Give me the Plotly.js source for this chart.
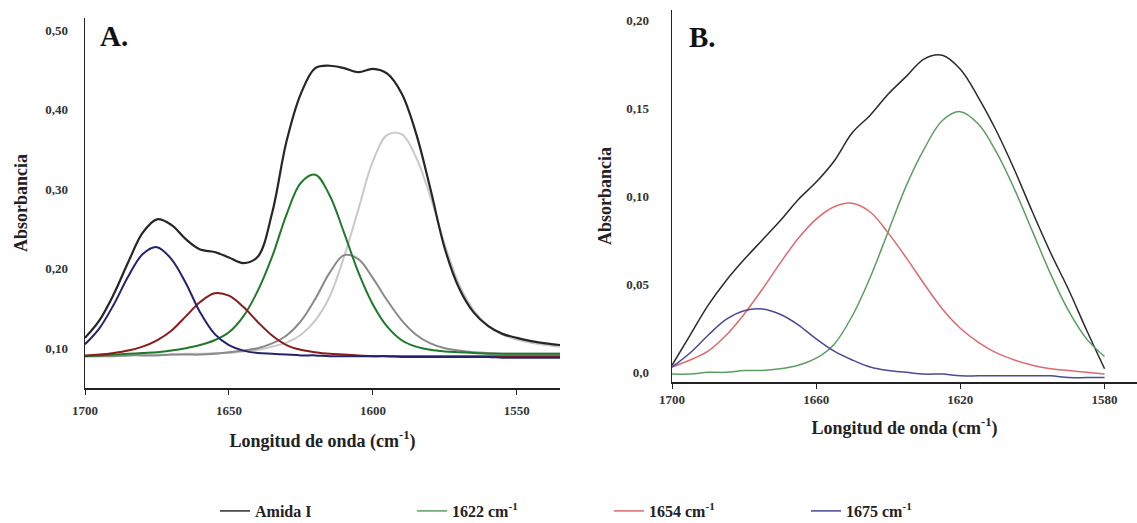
<!DOCTYPE html>
<html>
<head>
<meta charset="utf-8">
<script src="https://cdn.plot.ly/plotly-3.0.1.min.js"></script>
<style>html,body{margin:0;padding:0;background:#fff;}#chart{width:1137px;height:523px;}</style>
</head>
<body>
<div id="chart"></div>
<script>
// ---------- Panel A data ----------
const xA = [1700,1695,1690,1685,1680,1675,1670,1665,1660,1655,1650,1645,1640,1635,1630,1625,1620,1615,1610,1605,1600,1595,1590,1585,1580,1575,1570,1565,1560,1555,1550,1545,1540,1535];
const amidaA = [0.113,0.135,0.168,0.208,0.245,0.262,0.255,0.237,0.224,0.221,0.214,0.207,0.215,0.270,0.360,0.420,0.452,0.455,0.452,0.447,0.451,0.445,0.420,0.370,0.300,0.225,0.175,0.145,0.128,0.118,0.113,0.109,0.106,0.104];
const band1675A = [0.105,0.125,0.155,0.190,0.218,0.227,0.212,0.182,0.145,0.118,0.104,0.097,0.094,0.093,0.092,0.091,0.091,0.090,0.090,0.090,0.090,0.090,0.089,0.089,0.089,0.089,0.089,0.089,0.089,0.088,0.088,0.088,0.088,0.088];
const band1654A = [0.091,0.092,0.094,0.097,0.102,0.110,0.122,0.140,0.158,0.169,0.166,0.152,0.133,0.116,0.104,0.098,0.095,0.093,0.092,0.091,0.090,0.090,0.090,0.090,0.090,0.090,0.090,0.090,0.090,0.090,0.090,0.090,0.090,0.090];
const band1622A = [0.090,0.091,0.092,0.093,0.094,0.095,0.097,0.100,0.104,0.110,0.120,0.140,0.172,0.215,0.268,0.308,0.318,0.292,0.245,0.195,0.155,0.127,0.110,0.102,0.098,0.096,0.095,0.094,0.093,0.093,0.093,0.093,0.093,0.093];
const band1610A = [0.090,0.090,0.090,0.091,0.091,0.091,0.092,0.092,0.092,0.093,0.095,0.097,0.100,0.106,0.116,0.134,0.162,0.195,0.217,0.212,0.188,0.160,0.135,0.117,0.106,0.100,0.097,0.095,0.094,0.093,0.093,0.093,0.093,0.093];
const band1592A = [0.090,0.090,0.091,0.091,0.092,0.092,0.092,0.093,0.093,0.094,0.094,0.096,0.098,0.102,0.107,0.117,0.135,0.165,0.215,0.275,0.335,0.368,0.369,0.340,0.290,0.230,0.180,0.148,0.128,0.117,0.111,0.107,0.104,0.102];

// ---------- Panel B data ----------
const xB = [1700,1695,1690,1685,1680,1675,1670,1665,1660,1655,1650,1645,1640,1635,1630,1625,1620,1615,1610,1605,1600,1595,1590,1585,1580];
const amidaB = [0.004,0.021,0.038,0.052,0.064,0.075,0.086,0.098,0.108,0.120,0.136,0.146,0.158,0.168,0.178,0.180,0.172,0.156,0.137,0.115,0.091,0.068,0.047,0.024,0.002];
const band1622B = [-0.001,-0.001,0.000,0.000,0.001,0.001,0.002,0.004,0.008,0.016,0.032,0.054,0.080,0.106,0.127,0.143,0.148,0.141,0.125,0.104,0.080,0.056,0.035,0.019,0.009];
const band1654B = [0.003,0.007,0.012,0.021,0.033,0.047,0.062,0.076,0.087,0.094,0.096,0.091,0.079,0.065,0.050,0.036,0.025,0.017,0.011,0.007,0.004,0.002,0.001,0.000,-0.001];
const band1675B = [0.003,0.011,0.021,0.030,0.035,0.036,0.033,0.027,0.019,0.012,0.007,0.003,0.001,0.000,-0.001,-0.001,-0.002,-0.002,-0.002,-0.002,-0.002,-0.002,-0.003,-0.003,-0.003];

// ---------- Tick labels ----------
const yTickValsA = [0.10,0.20,0.30,0.40,0.50];
const yTickTextA = ['0,10','0,20','0,30','0,40','0,50'];
const xTickValsA = [1700,1650,1600,1550];
const yTickValsB = [0.00,0.05,0.10,0.15,0.20];
const yTickTextB = ['0,0','0,05','0,10','0,15','0,20'];
const xTickValsB = [1700,1660,1620,1580];
const legendNames = ['Amida I','1622 cm<sup>-1</sup>','1654 cm<sup>-1</sup>','1675 cm<sup>-1</sup>'];

const serif = 'Liberation Serif, Times New Roman, serif';

function tr(x, y, color, width, xa, ya, name, showleg) {
  return {x: x, y: y, type: 'scatter', mode: 'lines',
    line: {color: color, width: width, shape: 'spline', smoothing: 1},
    xaxis: xa, yaxis: ya, name: name || '', showlegend: !!showleg, hoverinfo: 'skip'};
}

const data = [
  tr(xA, band1592A, '#c9c9c9', 2, 'x', 'y'),
  tr(xA, band1610A, '#8a8a8a', 2, 'x', 'y'),
  tr(xA, band1622A, '#1e7a2a', 2, 'x', 'y'),
  tr(xA, band1654A, '#8a1c1c', 2, 'x', 'y'),
  tr(xA, band1675A, '#23236e', 2, 'x', 'y'),
  tr(xA, amidaA, '#262626', 2.2, 'x', 'y'),
  tr(xB, amidaB, '#2b2b2b', 1.5, 'x2', 'y2', legendNames[0], true),
  tr(xB, band1622B, '#5c9e62', 1.5, 'x2', 'y2', legendNames[1], true),
  tr(xB, band1654B, '#dc6a6e', 1.5, 'x2', 'y2', legendNames[2], true),
  tr(xB, band1675B, '#4a4a96', 1.5, 'x2', 'y2', legendNames[3], true)
];

const tickFont = {family: serif, size: 13, color: '#333', weight: 'bold'};
const titleFont = {family: serif, size: 18, color: '#222', weight: 'bold'};

function xax(domain, range, tickvals, anchor, lblStand, titleStand) {
  return {domain: domain, range: range, anchor: anchor, showline: true, linecolor: '#222', linewidth: 1.5,
    ticks: 'outside', ticklen: 5, tickwidth: 1, tickcolor: '#222', tickvals: tickvals,
    ticklabelstandoff: lblStand,
    tickfont: tickFont, showgrid: false, zeroline: false, automargin: false,
    title: {text: 'Longitud de onda (cm<sup>-1</sup>)', font: titleFont, standoff: titleStand}};
}
function yax(domain, range, tickvals, ticktext, anchor, lblStand, titleStand) {
  return {domain: domain, range: range, anchor: anchor, showline: true, linecolor: '#222', linewidth: 1.5,
    ticks: '', tickvals: tickvals, ticktext: ticktext, ticklabelstandoff: lblStand,
    tickfont: tickFont, showgrid: false, zeroline: false, automargin: false,
    title: {text: 'Absorbancia', font: titleFont, standoff: titleStand}};
}

const layout = {
  width: 1137, height: 523,
  margin: {l: 0, r: 0, t: 0, b: 0, autoexpand: false},
  paper_bgcolor: '#fff', plot_bgcolor: '#fff',
  xaxis: xax([85/1137, 560/1137], [1700, 1535], xTickValsA, 'y', 5, 17),
  yaxis: yax([1 - 388/523, 1 - 18/523], [0.05, 0.515], yTickValsA, yTickTextA, 'x', 13, 13),
  xaxis2: xax([672/1137, 1], [1700, 1571], xTickValsB, 'y2', 0, 15),
  yaxis2: yax([1 - 382/523, 1 - 10/523], [-0.0055, 0.2057], yTickValsB, yTickTextB, 'x2', 19, 10),
  showlegend: true,
  legend: {orientation: 'h', x: 215/1137, xanchor: 'left', y: 12/523, yanchor: 'middle',
    font: {family: serif, size: 16, color: '#222', weight: 'bold'},
    entrywidth: 152, entrywidthmode: 'pixels', bgcolor: 'rgba(0,0,0,0)'},
  annotations: [
    {text: 'A.', x: 98/1137, y: 1 - 36/523, xref: 'paper', yref: 'paper', xanchor: 'left', yanchor: 'middle',
     showarrow: false, font: {family: serif, size: 29, color: '#111', weight: 'bold'}},
    {text: 'B.', x: 687/1137, y: 1 - 37/523, xref: 'paper', yref: 'paper', xanchor: 'left', yanchor: 'middle',
     showarrow: false, font: {family: serif, size: 29, color: '#111', weight: 'bold'}}
  ]
};

Plotly.newPlot('chart', data, layout, {displayModeBar: false, staticPlot: true});
</script>
</body>
</html>
